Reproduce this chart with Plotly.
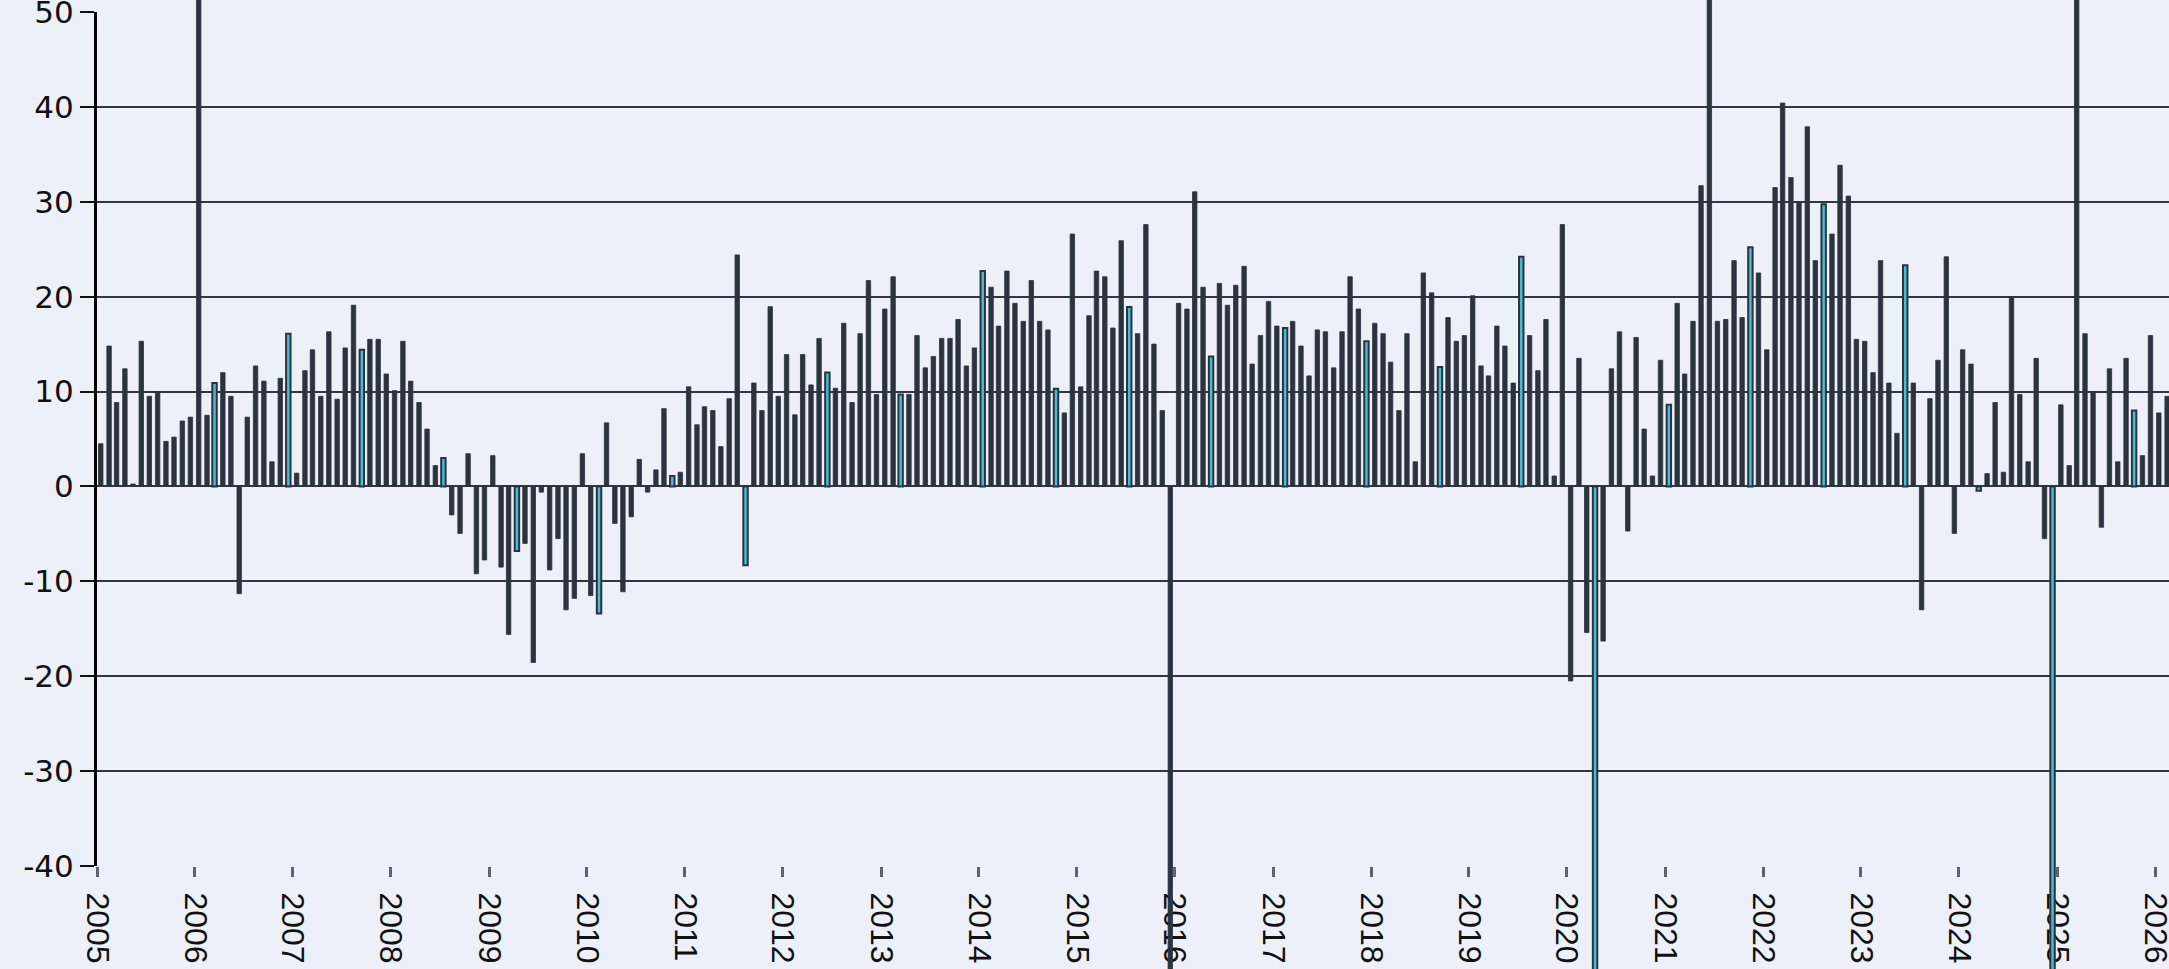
import plotly.graph_objects as go

# Monthly values (one list per year, Jan..Dec)
v2005 = [4.5, 14.8, 8.85, 12.4, 0.26, 15.3, 9.5, 10.0, 4.75, 5.2, 6.9, 7.3]
v2006 = [62.0, 7.5, 10.9, 12.0, 9.5, -11.3, 7.3, 12.7, 11.1, 2.6, 11.4, 16.1]
v2007 = [1.4, 12.2, 14.4, 9.5, 16.3, 9.2, 14.6, 19.1, 14.4, 15.5, 15.5, 11.85]
v2008 = [10.1, 15.3, 11.1, 8.85, 6.05, 2.2, 3.0, -3.0, -4.95, 3.45, -9.2, -7.75]
v2009 = [3.25, -8.5, -15.6, -6.8, -6.0, -18.55, -0.6, -8.8, -5.5, -13.0, -11.8, 3.45]
v2010 = [-11.5, -13.4, 6.7, -3.9, -11.1, -3.2, 2.85, -0.6, 1.75, 8.2, 1.1, 1.5]
v2011 = [10.5, 6.5, 8.4, 8.0, 4.2, 9.25, 24.4, -8.3, 10.9, 8.0, 18.95, 9.5]
v2012 = [13.9, 7.55, 13.9, 10.7, 15.6, 12.0, 10.35, 17.2, 8.85, 16.1, 21.7, 9.7]
v2013 = [18.7, 22.1, 9.7, 9.7, 15.9, 12.5, 13.7, 15.6, 15.6, 17.6, 12.7, 14.6]
v2014 = [22.7, 21.0, 16.9, 22.7, 19.3, 17.4, 21.7, 17.4, 16.5, 10.3, 7.75, 26.6]
v2015 = [10.5, 18.0, 22.7, 22.1, 16.7, 25.9, 18.9, 16.1, 27.6, 15.0, 8.0, -58.0]
v2016 = [19.3, 18.7, 31.05, 21.0, 13.7, 21.4, 19.1, 21.2, 23.2, 12.9, 15.9, 19.5]
v2017 = [16.9, 16.7, 17.4, 14.8, 11.65, 16.5, 16.3, 12.5, 16.3, 22.1, 18.7, 15.3]
v2018 = [17.2, 16.1, 13.1, 8.0, 16.1, 2.6, 22.5, 20.4, 12.6, 17.8, 15.3, 15.9]
v2019 = [20.1, 12.7, 11.65, 16.9, 14.8, 10.9, 24.2, 15.9, 12.2, 17.6, 1.1, 27.6]
v2020 = [-20.5, 13.5, -15.4, -62.0, -16.3, 12.4, 16.3, -4.7, 15.7, 6.05, 1.1, 13.3]
v2021 = [8.6, 19.3, 11.85, 17.4, 31.7, 60.0, 17.4, 17.6, 23.8, 17.8, 25.2, 22.5]
v2022 = [14.4, 31.5, 40.4, 32.55, 29.95, 37.9, 23.8, 29.75, 26.6, 33.85, 30.6, 15.5]
v2023 = [15.3, 12.0, 23.8, 10.9, 5.6, 23.3, 10.9, -13.0, 9.25, 13.3, 24.2, -4.95]
v2024 = [14.4, 12.9, -0.45, 1.35, 8.85, 1.5, 20.0, 9.7, 2.6, 13.5, -5.5, -57.0]
v2025 = [8.6, 2.2, 66.0, 16.1, 10.0, -4.3, 12.4, 2.6, 13.5, 8.0, 3.25, 15.9]
v2026 = [7.75, 9.5]

years = list(range(2005, 2027))
series = [v2005, v2006, v2007, v2008, v2009, v2010, v2011, v2012, v2013, v2014,
          v2015, v2016, v2017, v2018, v2019, v2020, v2021, v2022, v2023, v2024,
          v2025, v2026]

# Months drawn in the highlight (cyan) colour
highlight = ["2006-03", "2006-12", "2007-09", "2008-07", "2009-04", "2010-02",
             "2010-11", "2011-08", "2012-06", "2013-03", "2014-01", "2014-10",
             "2015-07", "2016-05", "2017-02", "2017-12", "2018-09", "2019-07",
             "2020-04", "2021-01", "2021-11", "2022-08", "2023-06", "2024-03",
             "2024-12", "2025-10"]

x_tick_labels = [str(y) for y in years]
y_tick_values = [-40, -30, -20, -10, 0, 10, 20, 30, 40, 50]
y_tick_labels = ["-40", "-30", "-20", "-10", "0", "10", "20", "30", "40", "50"]

dates, values, months = [], [], []
for yr, vals in zip(years, series):
    for i, v in enumerate(vals):
        months.append(f"{yr}-{i + 1:02d}")
        dates.append(f"{yr}-{i + 1:02d}-15")
        values.append(v)

DARK = "#2b333f"
CYAN = "#48bfd1"
BG = "#edf0f9"
fill = [CYAN if m in highlight else DARK for m in months]
line_w = [2.0 if m in highlight else 0.8 for m in months]

# Layout geometry: visible axis runs from -40 (px 866) to 50 (px 12) of a 969 px figure;
# bars live on a full-height companion axis with the same scale so they run past the frame.
H = 969
top_px, bot_px = 12.0, 866.0
ymin, ymax = -40.0, 50.0
ppu = (bot_px - top_px) / (ymax - ymin)
dom = [(H - bot_px) / H, (H - top_px) / H]
full_range = [ymin - (H - bot_px) / ppu, ymax + top_px / ppu]

fig = go.Figure()
# placeholder (no visible point) so the framed axis subplot is created and drawn first
fig.add_trace(go.Scatter(
    x=[dates[0]], y=[None], xaxis="x", yaxis="y",
    mode="markers", showlegend=False, hoverinfo="skip",
))
fig.add_trace(go.Bar(
    x=dates, y=values,
    xaxis="x", yaxis="y2",
    width=16.5 * 86400000,
    marker=dict(color=fill, line=dict(color=DARK, width=line_w)),
    hoverinfo="x+y", showlegend=False,
))

fig.update_layout(
    width=2169, height=H,
    margin=dict(l=97, r=0, t=0, b=0, pad=0),
    paper_bgcolor=BG, plot_bgcolor="rgba(0,0,0,0)",
    showlegend=False,
    xaxis=dict(
        type="date",
        anchor="y",
        range=["2005-01-01", "2026-02-22"],
        tickvals=[f"{y}-01-01" for y in years],
        ticktext=x_tick_labels,
        tickangle=90,
        ticks="outside", ticklen=10, tickwidth=3, tickcolor="#5b6472",
        ticklabelstandoff=9,
        ticklabeloverflow="allow",
        showgrid=False, showline=False, zeroline=False,
        tickfont=dict(family="Liberation Sans, Arial, sans-serif", size=32, color="#111111"),
        automargin=False,
    ),
    yaxis=dict(
        domain=dom,
        anchor="x",
        range=[ymin, ymax],
        tickvals=y_tick_values,
        ticktext=y_tick_labels,
        ticks="outside", ticklen=14, tickwidth=1.5, tickcolor="#111111",
        showgrid=True, gridcolor="#2f3743", gridwidth=1.5,
        zeroline=True, zerolinecolor="#2f3743", zerolinewidth=1.5,
        showline=True, linecolor="#000000", linewidth=3,
        ticklabeloverflow="allow",
        tickfont=dict(family="DejaVu Sans, Verdana, sans-serif", size=31, color="#111111"),
        automargin=False,
    ),
    yaxis2=dict(
        domain=[0, 1],
        anchor="x",
        range=full_range,
        visible=False,
        showgrid=False, zeroline=False,
    ),
)

fig.write_html("out.html", config={"displayModeBar": False},
               post_script="document.body.style.margin='0';")
